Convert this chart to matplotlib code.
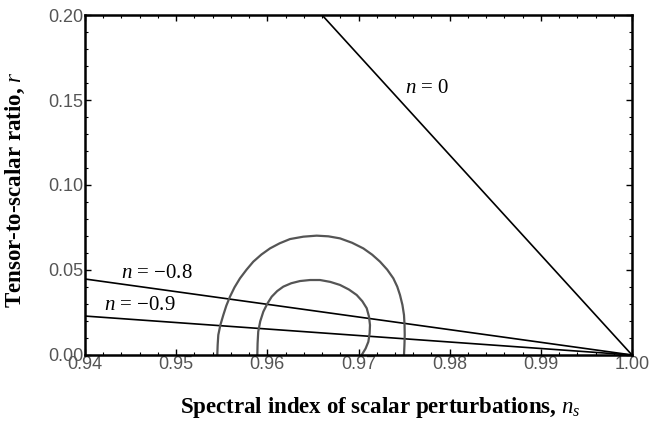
import matplotlib
matplotlib.use("Agg")
import matplotlib.pyplot as plt
from matplotlib.ticker import MultipleLocator

# ---- data ----
line_labels = ["n = 0", "n = \u22120.8", "n = \u22120.9"]
line_ns = [[0.966, 1.00], [0.94, 1.00], [0.94, 1.00]]
line_r = [[0.20, 0.0], [0.0447, 0.0], [0.0229, 0.0]]
label_ns = [0.9751, 0.9440, 0.9421]
label_r = [0.157, 0.048, 0.0294]

outer_ns = [0.95451, 0.95455, 0.95462, 0.95485, 0.95517, 0.9555, 0.9559, 0.9564, 0.9570,
            0.95772, 0.95846, 0.95935, 0.96029, 0.96135, 0.96249, 0.96395, 0.96541,
            0.96670, 0.96797, 0.96930, 0.97053, 0.97150, 0.97236, 0.97315, 0.97382,
            0.97425, 0.97455, 0.97482, 0.97499, 0.97505, 0.97507, 0.97504, 0.97499]
outer_r = [0.0, 0.0059, 0.0118, 0.0177, 0.0235, 0.0290, 0.0343, 0.0398, 0.0451,
           0.0502, 0.0549, 0.0591, 0.0627, 0.0657, 0.0682, 0.0696, 0.0702,
           0.0698, 0.0686, 0.0660, 0.0627, 0.0590, 0.0549, 0.0502, 0.0451,
           0.0402, 0.0353, 0.0294, 0.0235, 0.0176, 0.0118, 0.0059, 0.0]
inner_ns = [0.9589, 0.95893, 0.9590, 0.95922, 0.95956, 0.96000, 0.96048, 0.96108,
            0.96175, 0.96262, 0.96358, 0.96468, 0.96578, 0.96690, 0.96797, 0.96895,
            0.9698, 0.97042, 0.9709, 0.97115, 0.97126, 0.97122, 0.97108, 0.97078, 0.97035]
inner_r = [0.0, 0.0068, 0.0137, 0.0198, 0.0255, 0.0302, 0.0343, 0.0376,
           0.0402, 0.0422, 0.0435, 0.0441, 0.0441, 0.0430, 0.0412, 0.0385,
           0.0353, 0.0316, 0.0275, 0.0226, 0.0176, 0.0127, 0.0078, 0.0038, 0.0]

x_ticks = [0.94, 0.95, 0.96, 0.97, 0.98, 0.99, 1.00]
y_ticks = [0.00, 0.05, 0.10, 0.15, 0.20]

plt.rcParams['mathtext.fontset'] = 'custom'
plt.rcParams['mathtext.rm'] = 'Liberation Serif'
plt.rcParams['mathtext.it'] = 'Liberation Serif:italic'

fig = plt.figure(figsize=(6.51, 4.23), dpi=100)
ax = fig.add_axes([0.1306, 0.1608, 0.8402, 0.8037])

for xs, ys in zip(line_ns, line_r):
    ax.plot(xs, ys, color='black', lw=1.2, solid_capstyle='butt')

ax.plot(outer_ns, outer_r, color='#555555', lw=1.6)
ax.plot(inner_ns, inner_r, color='#555555', lw=1.6)

for lab, x, y in zip(line_labels, label_ns, label_r):
    n, rest = lab.split(" ", 1)
    ax.text(x, y, "$n$ " + rest, fontsize=15, family='Liberation Serif',
            va='center', ha='left')

ax.set_xlim(0.94, 1.00)
ax.set_ylim(0.0, 0.20)
ax.set_xticks(x_ticks)
ax.set_yticks(y_ticks)
ax.set_xticklabels([f"{v:.2f}" for v in x_ticks], family='Liberation Sans')
ax.set_yticklabels([f"{v:.2f}" for v in y_ticks], family='Liberation Sans')
ax.xaxis.set_minor_locator(MultipleLocator(0.002))
ax.yaxis.set_minor_locator(MultipleLocator(0.01))
ax.tick_params(which='both', direction='in', top=True, right=True,
               labelsize=13, labelcolor='#555555', pad=1)
ax.tick_params(which='major', length=4, width=1)
ax.tick_params(which='minor', length=2, width=0.8)
for s in ax.spines.values():
    s.set_linewidth(1.8)

ax.set_xlabel("Spectral index of scalar perturbations, $n_s$", fontsize=16.5,
              family='Liberation Serif', fontweight='bold')
ax.xaxis.set_label_coords(0.539, -0.118)
ax.set_ylabel("Tensor-to-scalar ratio, $r$", fontsize=16.5,
              family='Liberation Serif', fontweight='bold')
ax.yaxis.set_label_coords(-0.106, 0.485)

fig.savefig("out.png", dpi=100)
